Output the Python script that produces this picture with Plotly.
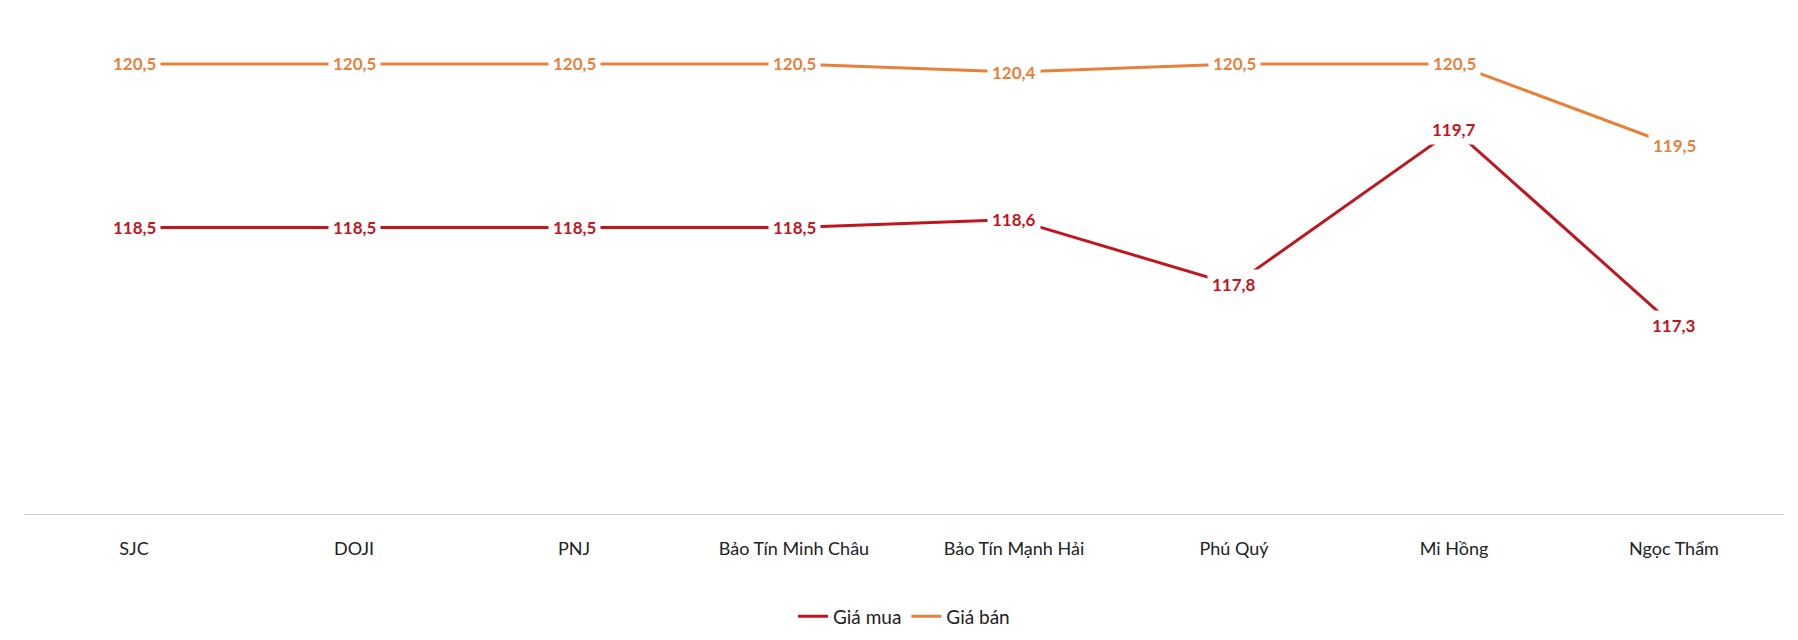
import plotly.graph_objects as go

brands = ["SJC", "DOJI", "PNJ", "Bảo Tín Minh Châu", "Bảo Tín Mạnh Hải", "Phú Quý", "Mi Hồng", "Ngọc Thẩm"]
gia_mua = [118.5, 118.5, 118.5, 118.5, 118.6, 117.8, 119.7, 117.3]
gia_ban = [120.5, 120.5, 120.5, 120.5, 120.4, 120.5, 120.5, 119.5]

red = "#C0161E"
orange = "#E8803A"

fig = go.Figure()
fig.add_trace(go.Scatter(x=brands, y=gia_mua, name="Giá mua", mode="lines",
                         line=dict(color=red, width=3)))
fig.add_trace(go.Scatter(x=brands, y=gia_ban, name="Giá bán", mode="lines",
                         line=dict(color=orange, width=3)))

for vals, col in [(gia_mua, red), (gia_ban, orange)]:
    for b, v in zip(brands, vals):
        fig.add_annotation(x=b, y=v, text="<b>" + f"{v:.1f}".replace(".", ",") + "</b>",
                           showarrow=False, bgcolor="white", borderpad=4,
                           font=dict(color=col, size=17, family="Lato"))

fig.update_layout(
    width=1798, height=640, plot_bgcolor="white", paper_bgcolor="white",
    margin=dict(l=16, r=22, t=15, b=108),
    font=dict(family="Lato", size=18, color="#222"),
    xaxis=dict(range=[-0.5, 7.5], showgrid=False, showline=True, linecolor="#d0d0d0",
               linewidth=1, ticks="outside", ticklen=18, tickcolor="white",
               tickfont=dict(size=18)),
    yaxis=dict(range=[115, 121], visible=False),
    legend=dict(orientation="h", x=0.5, xanchor="center", y=-0.17, yanchor="top",
                font=dict(size=19)),
)

fig.write_html("out.html")
